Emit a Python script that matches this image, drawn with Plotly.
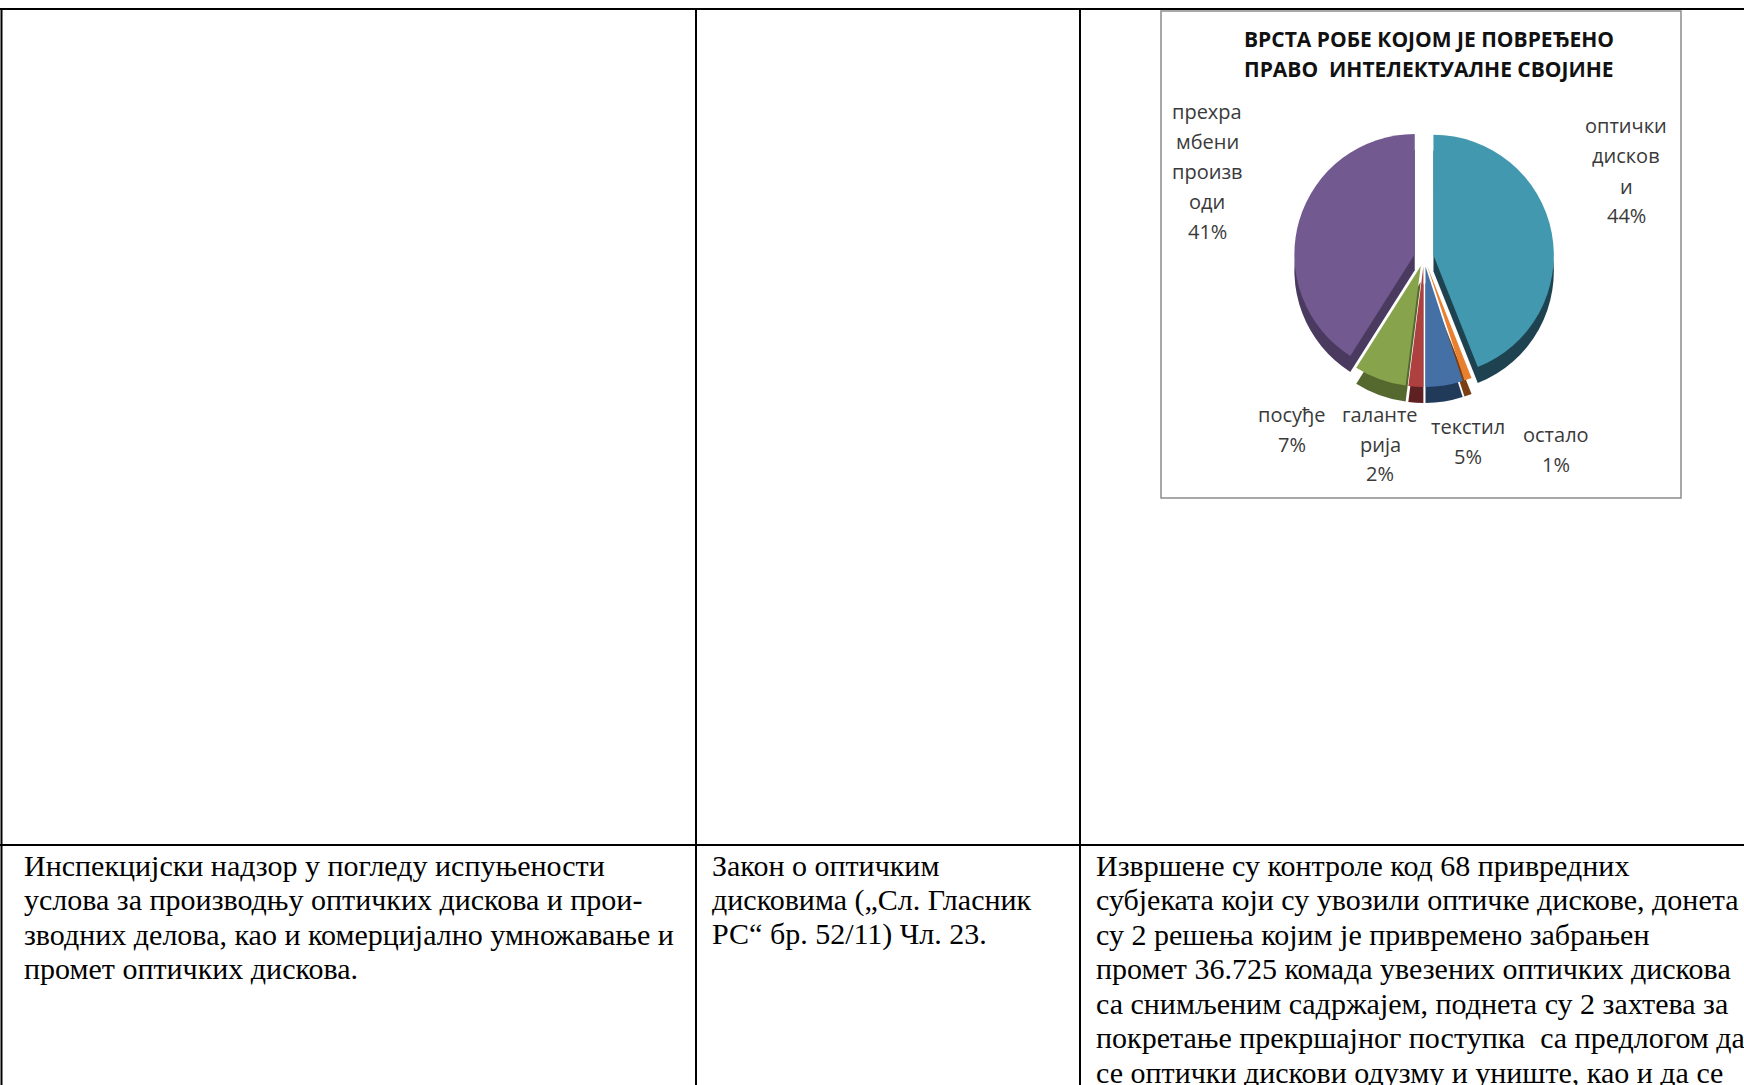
import plotly.graph_objects as go

W, H = 1744, 1085

# ---- data ----
categories = ["оптички дискови", "остало", "текстил", "галантерија", "посуђе", "прехрамбени производи"]
shares = [44, 1, 5, 2, 7, 41]
label_lines = [["оптички", "дисков", "и"], ["остало"], ["текстил"], ["галанте", "рија"], ["посуђе"],
               ["прехра", "мбени", "произв", "оди"]]
top_colors = ["#4298AE", "#E8802F", "#4470A6", "#AE4040", "#87A34C", "#72598F"]
side_colors = ["#1E4250", "#7A3F12", "#223A5A", "#5E2020", "#55692F", "#4A3A60"]
pulls = [0.08, 0.08, 0.08, 0.08, 0.08, 0.08]

title_lines = ["ВРСТА РОБЕ КОЈОМ ЈЕ ПОВРЕЂЕНО", "ПРАВО  ИНТЕЛЕКТУАЛНЕ СВОЈИНЕ"]

col1_lines = [
    "Инспекцијски надзор у погледу испуњености",
    "услова за производњу оптичких дискова и прои-",
    "зводних делова, као и комерцијално умножавање и",
    "промет оптичких дискова.",
]
col2_lines = [
    "Закон о оптичким",
    "дисковима („Сл. Гласник",
    "РС“ бр. 52/11) Чл. 23.",
]
col3_lines = [
    "Извршене су контроле код 68 привредних",
    "субјеката који су увозили оптичке дискове, донета",
    "су 2 решења којим је привремено забрањен",
    "промет 36.725 комада увезених оптичких дискова",
    "са снимљеним садржајем, поднета су 2 захтева за",
    "покретање прекршајног поступка  са предлогом да",
    "се оптички дискови одузму и униште, као и да се",
]


def px(x):
    return x / W


def py(y):
    return 1 - y / H


fig = go.Figure()

# pie geometry (pixels)
cx, cy, r = 1424, 257, 130
depth = 16

# side (depth) pie, shifted down
fig.add_trace(go.Pie(
    values=shares, labels=categories, sort=False, direction="clockwise", rotation=0,
    marker=dict(colors=side_colors, line=dict(width=0)),
    pull=pulls, textinfo="none", hoverinfo="skip", showlegend=False,
    domain=dict(x=[px(cx - r), px(cx + r)], y=[py(cy + depth + r), py(cy + depth - r)]),
))
# top pie
fig.add_trace(go.Pie(
    values=shares, labels=categories, sort=False, direction="clockwise", rotation=0,
    marker=dict(colors=top_colors, line=dict(width=0)),
    pull=pulls, textinfo="none", showlegend=False,
    domain=dict(x=[px(cx - r), px(cx + r)], y=[py(cy + r), py(cy - r)]),
))

shapes = []
line_style = dict(color="black", width=2)
# table lines
shapes.append(dict(type="line", xref="paper", yref="paper", x0=px(0), x1=px(W), y0=py(9), y1=py(9), line=line_style))
shapes.append(dict(type="line", xref="paper", yref="paper", x0=px(0), x1=px(W), y0=py(845), y1=py(845), line=line_style))
for xv in [1.5, 696, 1080]:
    shapes.append(dict(type="line", xref="paper", yref="paper", x0=px(xv), x1=px(xv), y0=py(9), y1=py(H + 5), line=line_style))
# chart frame
shapes.append(dict(type="rect", xref="paper", yref="paper", x0=px(1161), x1=px(1681), y0=py(498), y1=py(11),
                   line=dict(color="#8C8C8C", width=1.5), fillcolor="rgba(0,0,0,0)", layer="below"))

annotations = []
for i, t in enumerate(title_lines):
    annotations.append(dict(xref="paper", yref="paper", x=px(1429), y=py(39 + i * 30), text="<b>" + t + "</b>",
                            showarrow=False, xanchor="center", yanchor="middle",
                            font=dict(family="Open Sans", size=21, color="#111111")))

# first-line centre of each slice label (pixels) and line step
label_pos = [(1626, 126), (1556, 434), (1468, 426), (1380, 414), (1292, 414), (1207, 111)]
lab_step = 30
lab_font = dict(family="Open Sans", size=20, color="#3A3A3A")
for lines, s, (lx, ly) in zip(label_lines, shares, label_pos):
    for j, t in enumerate(lines + [f"{s}%"]):
        annotations.append(dict(xref="paper", yref="paper", x=px(lx), y=py(ly + j * lab_step), text=t,
                                showarrow=False, xanchor="center", yanchor="middle", font=lab_font))

text_font = dict(family="Liberation Serif", size=30, color="black")
for lines, x0 in [(col1_lines, 22), (col2_lines, 710), (col3_lines, 1094)]:
    for i, t in enumerate(lines):
        annotations.append(dict(xref="paper", yref="paper", x=px(x0), y=py(865 + i * 34.5), text=t,
                                showarrow=False, xanchor="left", yanchor="middle", font=text_font))

fig.update_layout(
    width=W, height=H, margin=dict(l=0, r=0, t=0, b=0),
    paper_bgcolor="white", plot_bgcolor="white",
    shapes=shapes, annotations=annotations,
    xaxis=dict(visible=False), yaxis=dict(visible=False),
)

fig.write_html("out.html", config={"displayModeBar": False},
               post_script="document.body.style.margin='0px';")
